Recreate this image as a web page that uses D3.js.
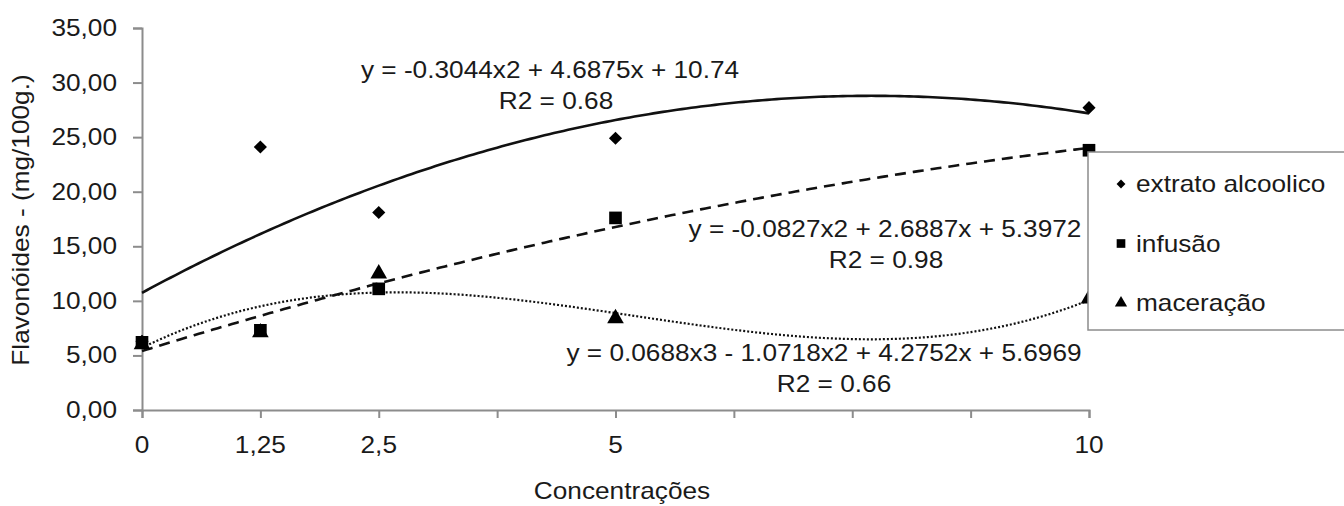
<!DOCTYPE html>
<html lang="pt">
<head>
<meta charset="UTF-8">
<title>Flavonóides</title>
<style>
  body { margin: 0; background: #fff; }
  svg { display: block; }
  text { font-family: "Liberation Sans", Arial, sans-serif; fill: #1a1a1a; }
</style>
<script src="https://cdnjs.cloudflare.com/ajax/libs/d3/7.8.5/d3.min.js"></script>
</head>
<body>
<script>
// dados
var concentracoes = [0, 1.25, 2.5, 5, 10];
var extratoAlcoolico = [6.3, 24.1, 18.1, 24.9, 27.7];
var infusao = [6.2, 7.3, 11.1, 17.6, 23.8];
var maceracao = [6.0, 7.1, 12.5, 8.4, 10.2];
var xTickLabels = ["0", "1,25", "2,5", "5", "10"];
var xMinorTicks = [0, 1.25, 2.5, 3.75, 5, 6.25, 7.5, 8.75, 10];
var yTicks = [0, 5, 10, 15, 20, 25, 30, 35];
var seriesNames = ["extrato alcoolico", "infusão", "maceração"];

// coeficientes das linhas de tendência (c0, c1, c2, c3), tirados das equações
var trendExtrato = [10.74, 4.6875, -0.3044];
var trendInfusao = [5.3972, 2.6887, -0.0827];
var trendMaceracao = [5.6969, 4.2752, -1.0718, 0.0688];
var trendLabels = [
  ["y = -0.3044x2 + 4.6875x + 10.74", "R2 = 0.68"],
  ["y = -0.0827x2 + 2.6887x + 5.3972", "R2 = 0.98"],
  ["y = 0.0688x3 - 1.0718x2 + 4.2752x + 5.6969", "R2 = 0.66"]
];

var width = 1344, height = 506;
var SX = 1.14;      // o texto original está esticado na horizontal
var FS = 23;

var svg = d3.select("body").append("svg")
  .attr("width", width)
  .attr("height", height);

var x = d3.scaleLinear().domain([0, 10]).range([142, 1089]);
var y = d3.scaleLinear().domain([0, 35]).range([410, 28]);

// texto esticado
function label(txt, px, py, anchor, rot) {
  var t = "translate(" + px + "," + py + ")";
  if (rot) t += " rotate(" + rot + ")";
  t += " scale(" + SX + ",1)";
  return svg.append("text")
    .attr("transform", t)
    .attr("text-anchor", anchor || "start")
    .attr("font-size", FS)
    .text(txt);
}

var axisColor = "#8c8c8c";

// eixo y
var yAxis = svg.append("g")
  .attr("transform", "translate(" + x(0) + ",0)")
  .call(d3.axisLeft(y).tickValues(yTicks).tickSize(9).tickFormat(""));
yAxis.select(".domain").attr("stroke", axisColor).attr("stroke-width", 2);
yAxis.selectAll(".tick line").attr("stroke", axisColor).attr("stroke-width", 2);
yTicks.forEach(function(d) {
  label(d.toFixed(2).replace(".", ","), 117, y(d) + 8, "end");
});

// eixo x
var xAxis = svg.append("g")
  .attr("transform", "translate(0," + y(0) + ")")
  .call(d3.axisBottom(x).tickValues(xMinorTicks).tickSize(8).tickFormat(""));
xAxis.select(".domain").attr("stroke", axisColor).attr("stroke-width", 2);
xAxis.selectAll(".tick line").attr("stroke", axisColor).attr("stroke-width", 2);
concentracoes.forEach(function(d, i) {
  label(xTickLabels[i], x(d), 453, "middle");
});

// títulos
label("Concentrações", 622, 499, "middle");
label("Flavonóides - (mg/100g.)", 29, 220, "middle", -90);

// linhas de tendência
function poly(c) {
  return function(v) {
    var s = 0;
    for (var k = 0; k < c.length; k++) s += c[k] * Math.pow(v, k);
    return s;
  };
}
var xs = d3.range(0, 10.001, 0.05);
var line = d3.line().x(function(d) { return x(d[0]); }).y(function(d) { return y(d[1]); });
var trends = [
  { c: trendExtrato, dash: null, w: 2.6 },
  { c: trendInfusao, dash: "11,7", w: 2.6 },
  { c: trendMaceracao, dash: "2,2", w: 2.2 }
];
trends.forEach(function(t) {
  var f = poly(t.c);
  svg.append("path")
    .datum(xs.map(function(v) { return [v, f(v)]; }))
    .attr("fill", "none")
    .attr("stroke", "#111")
    .attr("stroke-width", t.w)
    .attr("stroke-dasharray", t.dash)
    .attr("d", line);
});

// marcadores
var diamond = d3.symbol().type(d3.symbolDiamond2).size(110);
var square = d3.symbol().type(d3.symbolSquare).size(160);
var triangle = d3.symbol().type(d3.symbolTriangle).size(120);

function markers(vals, sym) {
  svg.append("g").selectAll("path")
    .data(vals)
    .enter()
    .append("path")
    .attr("d", sym)
    .attr("fill", "#000")
    .attr("transform", function(d, i) {
      return "translate(" + x(concentracoes[i]) + "," + y(d) + ")";
    });
}
markers(maceracao, triangle);
markers(extratoAlcoolico, diamond);
markers(infusao, square);

// rótulos das equações
var eqPos = [
  [550, 78, 556, 109],
  [885, 237, 886, 268],
  [824, 361, 834, 392]
];
trendLabels.forEach(function(l, i) {
  var p = eqPos[i];
  label(l[0], p[0], p[1], "middle");
  label(l[1], p[2], p[3], "middle");
});

// legenda
svg.append("rect")
  .attr("x", 1088).attr("y", 152)
  .attr("width", 270).attr("height", 178)
  .attr("fill", "#fff")
  .attr("stroke", axisColor)
  .attr("stroke-width", 1.5);
var legSyms = [
  d3.symbol().type(d3.symbolDiamond2).size(50),
  d3.symbol().type(d3.symbolSquare).size(75),
  d3.symbol().type(d3.symbolTriangle).size(65)
];
seriesNames.forEach(function(name, i) {
  var ly = 192 + i * 59.5;
  svg.append("path")
    .attr("d", legSyms[i])
    .attr("fill", "#000")
    .attr("transform", "translate(1121," + (ly - 8) + ")");
  label(name, 1136, ly, "start");
});
</script>
</body>
</html>
